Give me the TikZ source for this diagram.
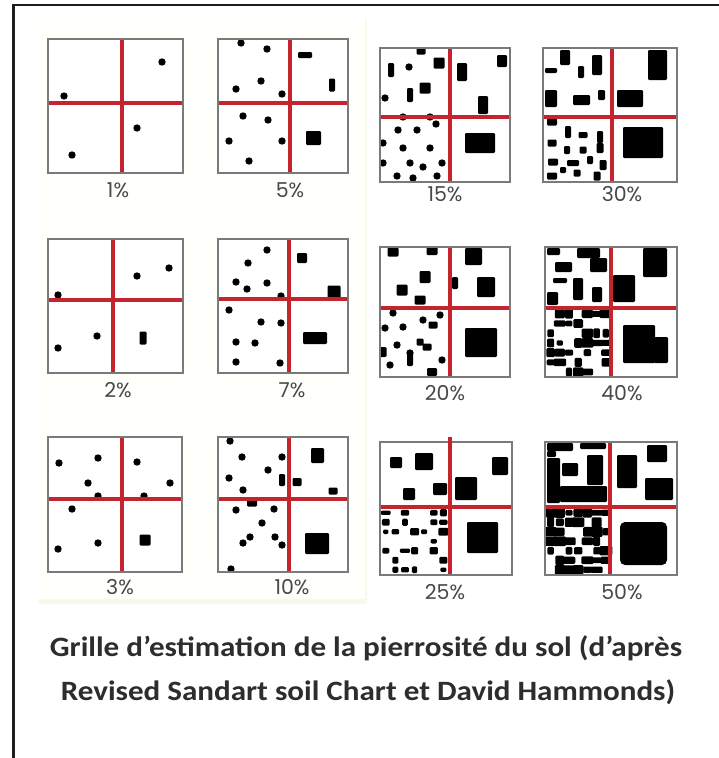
\documentclass[tikz,border=0pt]{standalone}
\usepackage{fontspec}
\setmainfont{Carlito}
\newfontfamily\labfont{Poppins}
\definecolor{redline}{RGB}{196,36,46}
\definecolor{boxgray}{RGB}{122,122,122}
\definecolor{labgray}{RGB}{72,72,72}
\definecolor{captxt}{RGB}{45,45,45}
\definecolor{cream}{RGB}{255,255,251}
\definecolor{creamedge}{RGB}{249,249,234}
\tikzset{
  stone/.style={fill=black, rounded corners=1.2pt},
  frameline/.style={draw={rgb,255:red,30;green,30;blue,30}},
  boxborder/.style={draw=boxgray, line width=2.2pt},
  cross/.style={draw=redline, line width=4pt},
  pct/.style={font=\labfont\fontsize{20.5}{22}\selectfont, text=labgray, inner sep=0pt},
  caption/.style={font=\bfseries\fontsize{28}{32}\selectfont, text=captxt, inner sep=0pt, xscale=1.11}
}
\newcommand\st[4]{\fill[stone] ({#1-(#3)/2},{#2-(#4)/2}) rectangle ++({#3},{#4});}
\newcommand\rc[4]{\fill[stone] (#1,#2) rectangle (#3,#4);}
\newcommand\dt[2]{\fill (#1,#2) circle (3.7pt);}
\newcommand\boxbg[4]{\fill[white] (#1,#2) rectangle (#3,#4);}
\newcommand\boxfg[6]{%
  \draw[boxborder] (#1,#2) rectangle (#3,#4);
  \draw[cross] (#5,{#2+1}) -- (#5,{#4-1});
  \draw[cross] ({#1+1},#6) -- ({#3-1},#6);}
\newcommand\dense[8]{%
  \foreach \i in {1,...,#3}{\foreach \j in {1,...,#4}{%
    \pgfmathsetmacro\rr{rnd}%
    \pgfmathsetmacro\ww{#8*(0.8+0.9*rnd)}%
    \pgfmathsetmacro\hh{#8*(0.7+0.6*rnd)}%
    \ifdim\rr pt<#7pt\relax \st{#1+(\i-0.5)*#5}{#2+(\j-0.5)*#6}{\ww}{\hh}\fi}}}
\begin{document}
\begin{tikzpicture}[x=1pt,y=-1pt]
\useasboundingbox (0,0) rectangle (719,758);
\fill[white] (0,0) rectangle (719,758);
% faint cream panel behind the left columns
\fill[cream] (38,20) rectangle (367,603);
\fill[creamedge] (38,599) rectangle (367,604);
\fill[creamedge] (365,20) rectangle (367,604);
% frame
\draw[frameline, line width=3pt] (13,4) -- (13,758);
\draw[frameline, line width=2pt] (12,5) -- (719,5);

% ---------- 1% ----------
\boxbg{48}{39}{183}{173}
\dt{162}{62}\dt{64}{96}\dt{137}{128}\dt{72}{155}
\boxfg{48}{39}{183}{173}{122}{103}
\node[pct] (l1) at (118,190) {1\%};

% ---------- 5% ----------
\boxbg{218}{39}{348}{173}
\dt{241}{43}\dt{267}{49}\dt{261}{81}\dt{236}{89}\dt{282}{94}
\dt{243}{116}\dt{268}{120}\dt{229}{141}\dt{282}{141}\dt{249}{161}
\st{305}{55}{14}{6}\st{332}{85}{6}{13}
\rc{306}{131}{321}{145}\rc{306}{131}{314}{137}
\boxfg{218}{39}{348}{173}{290}{103}
\node[pct] (l5) at (290,190) {5\%};

% ---------- 15% ----------
\boxbg{380}{48}{510}{182}
\st{421}{51}{9}{7}\st{391}{70}{6}{14}\dt{409}{67}\st{439}{63}{11}{11}
\st{425}{88}{11}{11}\st{410}{95}{6}{14}\dt{385}{98}\dt{403}{117}\dt{430}{117}\dt{436}{124}
\st{462}{72}{10}{18}\st{502}{61}{10}{12}\st{483}{105}{10}{18}
\dt{398}{130}\dt{417}{130}\dt{383}{143}\dt{403}{148}\dt{430}{148}
\dt{383}{163}\dt{410}{163}\dt{423}{167}\dt{442}{163}\dt{397}{176}\dt{413}{178}\dt{437}{176}
\rc{465}{133}{495}{153}
\boxfg{380}{48}{510}{182}{450}{117}
\node[pct] (l15) at (445,194) {15\%};

% ---------- 30% ----------
\boxbg{543}{48}{677}{182}
\rc{560}{50}{570}{65}\rc{545}{68}{557}{73}\rc{578}{66}{584}{78}\rc{592}{55}{602}{75}
\rc{545}{90}{557}{107}\rc{573}{95}{590}{105}\rc{598}{90}{605}{100}
\rc{648}{50}{667}{80}\rc{617}{90}{643}{107}
\st{552}{122}{10}{7}\st{568}{132}{6}{12}\st{583}{135}{9}{6}\st{600}{137}{6}{12}
\st{552}{143}{9}{7}\st{567}{150}{6}{8}\st{583}{150}{7}{7}\st{600}{148}{7}{10}
\st{553}{162}{10}{7}\st{573}{163}{12}{6}\st{590}{160}{6}{8}\st{603}{165}{7}{10}
\st{552}{176}{10}{7}\st{577}{173}{7}{7}\st{597}{176}{7}{9}\st{563}{170}{6}{6}
\rc{623}{127}{663}{158}
\boxfg{543}{48}{677}{182}{612}{117}
\node[pct] (l30) at (622,194) {30\%};

% ---------- 2% ----------
\boxbg{48}{239}{183}{373}
\dt{169}{268}\dt{137}{276}\dt{58}{295}\dt{97}{336}\dt{58}{348}
\st{143}{338}{7}{13}
\boxfg{48}{239}{183}{373}{113}{300}
\node[pct] (l2) at (118,390) {2\%};

% ---------- 7% ----------
\boxbg{218}{239}{348}{373}
\dt{267}{250}\dt{248}{263}\dt{236}{282}\dt{247}{289}\dt{267}{283}\dt{281}{296}
\dt{229}{310}\dt{261}{322}\dt{281}{323}\dt{236}{342}\dt{255}{343}\dt{236}{362}\dt{280}{363}
\st{302}{258}{10}{10}\st{334}{292}{13}{13}\st{315}{338}{24}{12}
\boxfg{218}{239}{348}{373}{289}{299}
\node[pct] (l7) at (292,390) {7\%};

% ---------- 20% ----------
\boxbg{380}{247}{510}{377}
\st{393}{252}{11}{9}\st{432}{251}{11}{8}\st{425}{277}{11}{12}\st{402}{290}{11}{11}\st{420}{300}{11}{9}
\rc{465}{248}{482}{265}\rc{477}{277}{495}{297}\st{455}{283}{6}{12}
\dt{393}{313}\dt{385}{328}\dt{403}{327}\dt{423}{320}\st{433}{325}{9}{7}\dt{440}{315}
\dt{397}{345}\st{383}{352}{7}{10}\dt{410}{353}\st{420}{342}{7}{7}\st{427}{347}{9}{7}
\dt{390}{365}\st{410}{360}{6}{12}\dt{442}{360}\st{432}{372}{10}{8}
\rc{465}{328}{497}{357}
\boxfg{380}{247}{510}{377}{450}{308}
\node[pct] (l20) at (445,393) {20\%};

% ---------- 40% ----------
\boxbg{545}{247}{677}{377}
\rc{547}{248}{560}{255}\rc{577}{248}{600}{258}\rc{590}{258}{607}{272}\rc{555}{262}{572}{272}
\rc{553}{278}{567}{283}\rc{573}{278}{583}{300}\rc{592}{287}{602}{302}\rc{547}{292}{558}{305}
\rc{643}{248}{667}{277}\rc{613}{275}{635}{302}
\pgfmathsetseed{17}
\dense{546}{309}{7}{7}{9.2}{9.7}{0.7}{7.5}
\rc{623}{325}{655}{363}\rc{654}{337}{668}{363}
\boxfg{545}{247}{677}{377}{611}{308}
\node[pct] (l40) at (622,393) {40\%};

% ---------- 3% ----------
\boxbg{48}{437}{182}{572}
\dt{59}{463}\dt{98}{458}\dt{137}{462}\dt{88}{483}\dt{170}{483}\dt{98}{496}\dt{144}{496}
\dt{72}{509}\dt{58}{549}\dt{98}{543}
\st{145}{540}{11}{11}
\boxfg{48}{437}{182}{572}{122}{499}
\node[pct] (l3) at (120,587) {3\%};

% ---------- 10% ----------
\boxbg{218}{437}{348}{572}
\dt{230}{441}\dt{242}{457}\dt{282}{457}\dt{268}{470}\dt{229}{478}\dt{243}{490}
\st{282}{480}{6}{12}\st{297}{482}{9}{8}\st{333}{491}{9}{7}\st{252}{503}{10}{7}
\dt{236}{510}\dt{274}{509}\dt{262}{523}\dt{250}{537}\dt{243}{543}\dt{275}{537}\dt{282}{545}\dt{231}{569}
\rc{311}{448}{324}{463}\rc{305}{533}{329}{554}
\boxfg{218}{437}{348}{572}{289}{499}
\node[pct] (l10) at (292,587) {10\%};

% ---------- 25% ----------
\boxbg{380}{442}{512}{575}
\rc{390}{457}{402}{468}\rc{415}{453}{433}{470}\rc{403}{488}{415}{500}\rc{433}{483}{447}{495}
\rc{455}{477}{477}{500}\rc{492}{457}{508}{475}
\pgfmathsetseed{5}
\dense{381}{508}{7}{7}{9.6}{9.5}{0.55}{6}
\rc{467}{522}{498}{553}
\boxfg{380}{442}{512}{575}{450}{507}
\draw[cross] (450,437) -- (450,443);
\node[pct] (l25) at (445,592) {25\%};

% ---------- 50% ----------
\boxbg{545}{442}{677}{575}
\rc{547}{443}{573}{451}\rc{580}{443}{606}{449}\rc{547}{458}{560}{503}\rc{562}{463}{578}{476}
\rc{587}{455}{603}{485}\rc{560}{486}{607}{502}\rc{547}{451}{556}{457}
\rc{617}{455}{637}{488}\rc{647}{445}{667}{462}\rc{645}{478}{673}{500}
\pgfmathsetseed{23}
\dense{546}{508}{7}{7}{9.2}{9.5}{0.78}{8}
\fill[stone, rounded corners=5pt] (620,522) rectangle (667,565);
\boxfg{545}{442}{677}{575}{610}{507}
\node[pct] (l50) at (622,592) {50\%};

% ---------- caption ----------
\node[caption] (cap1) at (366,648) {Grille d’estimation de la pierrosité du sol (d’après};
\node[caption] (cap2) at (368,692) {Revised Sandart soil Chart et David Hammonds)};
\end{tikzpicture}
\end{document}
